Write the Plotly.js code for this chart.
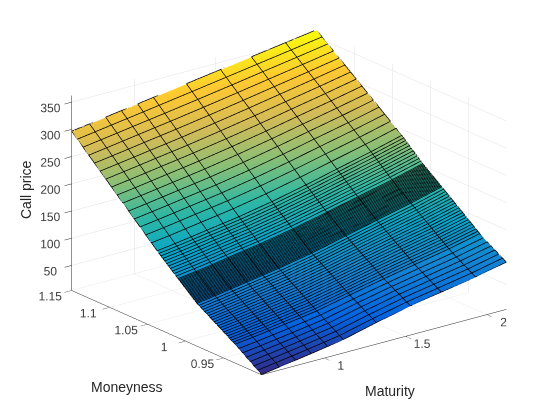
<!DOCTYPE html>
<html>
<head>
<meta charset="utf-8">
<script src="https://cdn.plot.ly/plotly-3.0.1.min.js"></script>
<style>html,body{margin:0;padding:0;background:#fff}#chart{width:560px;height:420px}</style>
</head>
<body>
<div id="chart"></div>
<script>
const maturity = [0.614,0.724,0.823,0.92,1.02,1.117,1.32,1.53,1.72,1.93,2.12]
const moneyness = [
  0.9,0.905,0.91,0.915,0.92,0.925,0.93,0.935,
  0.9375,0.94,0.9425,0.945,0.9475,0.95,0.9525,0.955,0.9575,0.96,0.9625,0.965,0.9675,0.97,0.9725,0.975,0.9775,0.98,0.9825,0.985,
  0.986,0.987,0.988,0.989,0.99,0.991,0.992,0.993,0.994,0.995,0.996,0.997,0.998,0.999,1,1.001,1.002,1.003,1.004,1.005,1.006,1.007,1.008,1.009,1.01,
  1.0125,1.015,1.0175,1.02,1.0225,1.025,1.0275,1.03,1.0325,1.035,1.0375,
  1.045,1.0525,1.06,1.0675,1.075,1.0825,1.09,1.0975,1.105,1.1125,1.12,1.1275,1.135,1.1425,1.15
]
// one row per moneyness, one column per maturity
const price = [
  [4,9,13.5,18,23,28,43,57,67,78,90],
  [8.9,13.7,18.1,22.6,27.5,32.4,47.1,61,71.1,82.3,94.4],
  [13.7,18.4,22.8,27.2,32,36.9,51.3,65,75.3,86.6,98.9],
  [18.6,23.1,27.4,31.8,36.5,41.3,55.4,69,79.4,90.9,103.3],
  [23.4,27.9,32.1,36.4,41.1,45.7,59.6,73,83.6,95.1,107.7],
  [28.3,32.6,36.7,41,45.6,50.1,63.7,77,87.7,99.4,112.1],
  [33.1,37.3,41.4,45.6,50.1,54.6,67.9,81,91.9,103.7,116.6],
  [38,42,46,50.2,54.6,59,72,85,96,108,121],
  [40.2,44.3,48.3,52.5,56.9,61.4,74.3,87.4,98.5,110.7,123.8],
  [42.4,46.5,50.6,54.8,59.3,63.7,76.6,89.8,101.1,113.3,126.5],
  [44.6,48.8,52.9,57.2,61.6,66.1,78.9,92.2,103.6,116,129.3],
  [46.8,51,55.2,59.5,64,68.4,81.2,94.6,106.1,118.6,132],
  [49,53.3,57.5,61.8,66.3,70.8,83.5,97,108.6,121.3,134.8],
  [51.2,55.5,59.7,64.1,68.6,73.2,85.8,99.4,111.2,123.9,137.5],
  [53.4,57.8,62,66.4,71,75.5,88.1,101.8,113.7,126.6,140.3],
  [55.6,60,64.3,68.8,73.3,77.9,90.4,104.2,116.2,129.2,143],
  [57.8,62.3,66.6,71.1,75.7,80.2,92.7,106.6,118.7,131.9,145.8],
  [60,64.5,68.9,73.4,78,82.6,95,109,121.3,134.5,148.5],
  [62.2,66.8,71.2,75.7,80.3,85,97.3,111.4,123.8,137.2,151.3],
  [64.4,69,73.5,78,82.7,87.3,99.6,113.8,126.3,139.8,154],
  [66.6,71.3,75.8,80.4,85,89.7,101.9,116.2,128.8,142.5,156.8],
  [68.8,73.5,78.1,82.7,87.4,92,104.2,118.6,131.4,145.1,159.5],
  [71,75.8,80.4,85,89.7,94.4,106.5,121,133.9,147.8,162.3],
  [73.2,78,82.6,87.3,92,96.8,108.8,123.4,136.4,150.4,165],
  [75.4,80.3,84.9,89.6,94.4,99.1,111.1,125.8,138.9,153.1,167.8],
  [77.6,82.5,87.2,92,96.7,101.5,113.4,128.2,141.5,155.7,170.5],
  [79.8,84.8,89.5,94.3,99.1,103.8,115.7,130.6,144,158.4,173.3],
  [82,87,91.8,96.6,101.4,106.2,118,133,146.5,161,176],
  [83.2,88.2,93,97.8,102.6,107.4,119.2,134.1,147.6,162.1,177.1],
  [84.4,89.4,94.1,99,103.8,108.5,120.3,135.2,148.7,163.2,178.2],
  [85.6,90.5,95.3,100.1,105,109.7,121.5,136.4,149.8,164.3,179.2],
  [86.8,91.7,96.5,101.3,106.1,110.9,122.6,137.5,150.9,165.4,180.3],
  [88,92.9,97.6,102.5,107.3,112.1,123.8,138.6,152,166.5,181.4],
  [89.2,94.1,98.8,103.7,108.5,113.2,125,139.7,153.1,167.6,182.5],
  [90.4,95.3,100,104.8,109.7,114.4,126.1,140.8,154.2,168.7,183.6],
  [91.6,96.4,101.1,106,110.9,115.6,127.3,142,155.3,169.8,184.6],
  [92.8,97.6,102.3,107.2,112.1,116.7,128.4,143.1,156.4,170.9,185.7],
  [94,98.8,103.5,108.4,113.2,117.9,129.6,144.2,157.5,172,186.8],
  [95.2,100,104.6,109.5,114.4,119.1,130.8,145.3,158.6,173.1,187.9],
  [96.4,101.2,105.8,110.7,115.6,120.3,131.9,146.4,159.7,174.2,189],
  [97.6,102.3,107,111.9,116.8,121.4,133.1,147.6,160.8,175.3,190],
  [98.8,103.5,108.2,113.1,118,122.6,134.2,148.7,161.9,176.4,191.1],
  [100,104.7,109.3,114.2,119.2,123.8,135.4,149.8,163,177.5,192.2],
  [101.2,105.9,110.5,115.4,120.3,125,136.6,150.9,164.1,178.6,193.3],
  [102.4,107.1,111.7,116.6,121.5,126.1,137.7,152,165.2,179.7,194.4],
  [103.6,108.2,112.8,117.8,122.7,127.3,138.9,153.2,166.3,180.8,195.4],
  [104.8,109.4,114,118.9,123.9,128.5,140,154.3,167.4,181.9,196.5],
  [106,110.6,115.2,120.1,125.1,129.6,141.2,155.4,168.5,183,197.6],
  [107.2,111.8,116.3,121.3,126.3,130.8,142.4,156.5,169.6,184.1,198.7],
  [108.4,113,117.5,122.5,127.4,132,143.5,157.6,170.7,185.2,199.8],
  [109.6,114.1,118.7,123.6,128.6,133.2,144.7,158.8,171.8,186.3,200.8],
  [110.8,115.3,119.8,124.8,129.8,134.3,145.8,159.9,172.9,187.4,201.9],
  [112,116.5,121,126,131,135.5,147,161,174,188.5,203],
  [115.1,119.6,124.1,129,134,138.5,150,164,177.1,191.6,206.2],
  [118.2,122.7,127.2,132.1,137,141.5,153,167,180.2,194.8,209.4],
  [121.3,125.8,130.3,135.1,140,144.5,156,170,183.3,197.9,212.5],
  [124.4,128.9,133.4,138.2,143,147.5,159,173,186.4,201,215.7],
  [127.5,131.9,136.5,141.2,146,150.5,162,176,189.5,204.2,218.9],
  [130.5,135,139.5,144.3,149,153.5,165,179,192.5,207.3,222.1],
  [133.6,138.1,142.6,147.4,152,156.5,168,182,195.6,210.5,225.3],
  [136.7,141.2,145.7,150.4,155,159.5,171,185,198.7,213.6,228.4],
  [139.8,144.3,148.8,153.5,158,162.5,174,188,201.8,216.8,231.6],
  [142.9,147.4,151.9,156.5,161,165.5,177,191,204.9,219.9,234.8],
  [146,150.5,155,159.5,164,168.5,180,194,208,223,238],
  [156,160.5,165,169.5,174,178.5,189.8,203.5,217.1,231.7,246.3],
  [166,170.5,175,179.5,184,188.4,199.6,213,226.2,240.4,254.5],
  [176,180.6,185,189.5,194,198.4,209.4,222.4,235.3,249.1,262.8],
  [186,190.6,195,199.5,204,208.4,219.2,231.9,244.4,257.8,271.1],
  [196,200.6,205.1,209.5,213.9,218.4,229,241.4,253.5,266.6,279.4],
  [206,210.6,215.1,219.5,223.9,228.3,238.8,250.9,262.6,275.3,287.6],
  [216,220.6,225.1,229.5,233.9,238.3,248.6,260.4,271.7,284,295.9],
  [226,230.7,235.1,239.5,243.9,248.3,258.4,269.8,280.8,292.7,304.2],
  [236,240.7,245.1,249.5,253.9,258.2,268.2,279.3,289.9,301.4,312.4],
  [246,250.7,255.1,259.5,263.9,268.2,278,288.8,299,310.1,320.7],
  [256,260.7,265.1,269.5,273.9,278.2,287.8,298.3,308.1,318.8,329],
  [266,270.7,275.1,279.5,283.9,288.1,297.6,307.8,317.2,327.5,337.2],
  [276,280.8,285.1,289.5,293.9,298.1,307.4,317.2,326.3,336.2,345.5],
  [286,290.8,295.2,299.5,303.8,308.1,317.2,326.7,335.4,345,353.8],
  [296,300.8,305.2,309.5,313.8,318.1,327,336.2,344.5,353.7,362]
]
const parula = [[0,'rgb(53,42,135)'],[0.125,'rgb(3,99,225)'],[0.25,'rgb(20,132,212)'],[0.375,'rgb(6,164,202)'],[0.5,'rgb(46,183,164)'],[0.625,'rgb(135,191,119)'],[0.75,'rgb(209,187,89)'],[0.875,'rgb(254,200,50)'],[1,'rgb(249,251,14)']]

// black mesh lines, one line per row and per column of the table
let lx = [], ly = [], lz = []
for (let i = 0; i < moneyness.length; i++){
    for (let j = 0; j < maturity.length; j++){
        lx.push(maturity[j]); ly.push(moneyness[i]); lz.push(price[i][j] + 0.6)
    }
    lx.push(null); ly.push(null); lz.push(null)
}
for (let j = 0; j < maturity.length; j++){
    for (let i = 0; i < moneyness.length; i++){
        lx.push(maturity[j]); ly.push(moneyness[i]); lz.push(price[i][j] + 0.6)
    }
    lx.push(null); ly.push(null); lz.push(null)
}

const surf = {
    type: "surface", x: maturity, y: moneyness, z: price,
    colorscale: parula, cmin: 4, cmax: 362, showscale: false,
    lighting: {ambient: 1, diffuse: 0, specular: 0, roughness: 1, fresnel: 0},
    hoverinfo: "skip"
}
const mesh = {
    type: "scatter3d", mode: "lines", x: lx, y: ly, z: lz,
    line: {color: "#000", width: 1.5}, showlegend: false, hoverinfo: "skip"
}
const axisStyle = {
    showbackground: false, gridcolor: "#e2e2e2", gridwidth: 1, zeroline: false,
    showline: true, linecolor: "#262626", linewidth: 1,
    ticks: "outside", ticklen: 9, tickcolor: "#262626", tickangle: 0,
    tickfont: {family: "Liberation Sans", size: 12, color: "#404040"},
    showspikes: false, title: {text: ""}
}
const layout = {
    width: 560, height: 420, margin: {l: 0, r: 0, t: 0, b: 0}, showlegend: false,
    paper_bgcolor: "#fff",
    scene: {
        domain: {x: [0.032, 1], y: [0.036, 1]},
        aspectmode: "manual", aspectratio: {x: 1.53, y: 1.53, z: 1.025},
        camera: {projection: {type: "orthographic"}, eye: {x: -1.151, y: -1.483, z: 0.689}, center: {x: 0, y: 0, z: 0}, up: {x: 0, y: 0, z: 1}},
        xaxis: Object.assign({}, axisStyle, {range: [0.614, 2.12], tickvals: [1, 1.5, 2]}),
        yaxis: Object.assign({}, axisStyle, {range: [0.9, 1.15], tickvals: [0.95, 1, 1.05, 1.1, 1.15]}),
        zaxis: Object.assign({}, axisStyle, {range: [4, 362], tickvals: [50, 100, 150, 200, 250, 300, 350]})
    },
    annotations: [
        {text: "Call price", x: 26, y: 190, textangle: -90},
        {text: "Moneyness", x: 127, y: 387, textangle: 0},
        {text: "Maturity", x: 390, y: 391, textangle: 0}
    ].map(a => Object.assign(a, {xref: "paper", yref: "paper", x: a.x / 560, y: 1 - a.y / 420, showarrow: false, xanchor: "center", yanchor: "middle", font: {family: "Liberation Sans", size: 14, color: "#262626"}}))
}
Plotly.newPlot("chart", [surf, mesh], layout, {displayModeBar: false})
</script>
</body>
</html>
